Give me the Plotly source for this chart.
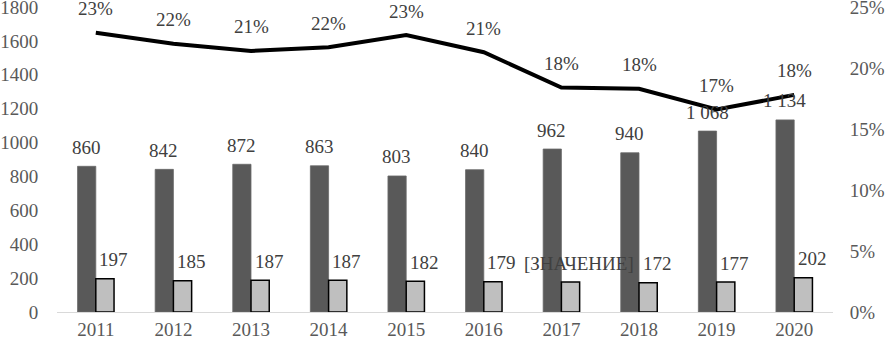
import plotly.graph_objects as go

years = ["2011", "2012", "2013", "2014", "2015", "2016", "2017", "2018", "2019", "2020"]
total_values = [860, 842, 872, 863, 803, 840, 962, 940, 1068, 1134]
total_labels = ["860", "842", "872", "863", "803", "840", "962", "940", "1 068", "1 134"]
part_values = [197, 185, 187, 187, 182, 179, 177, 172, 177, 202]
part_labels = ["197", "185", "187", "187", "182", "179", "[ЗНАЧЕНИЕ]", "172", "177", "202"]
share_values = [22.9, 22.0, 21.4, 21.7, 22.7, 21.3, 18.4, 18.3, 16.6, 17.8]
share_labels = ["23%", "22%", "21%", "22%", "23%", "21%", "18%", "18%", "17%", "18%"]
left_ticks = [0, 200, 400, 600, 800, 1000, 1200, 1400, 1600, 1800]
right_ticks = [0, 5, 10, 15, 20, 25]

FONT = "Liberation Serif"
TXT = "#404040"

fig = go.Figure()
fig.add_trace(go.Bar(x=years, y=total_values, marker=dict(color="#595959", line=dict(color="#6a6a6a", width=0.8)),
                     name="total"))
fig.add_trace(go.Bar(x=years, y=part_values, marker=dict(color="#bfbfbf", line=dict(color="#000000", width=1.5)),
                     name="part"))
fig.add_trace(go.Scatter(x=years, y=share_values, yaxis="y2", mode="lines",
                         line=dict(color="#000000", width=4), name="share"))

anns = []
for i, y in enumerate(years):
    # category axis: annotation x given as the category's serial index
    anns.append(dict(x=i, y=total_values[i], xref="x", yref="y", text=total_labels[i], showarrow=False,
                     xshift=-9.5, yshift=19, font=dict(family=FONT, size=19, color=TXT)))
    anns.append(dict(x=i, y=part_values[i], xref="x", yref="y", text=part_labels[i], showarrow=False,
                     xshift=18, yshift=19, font=dict(family=FONT, size=19, color=TXT)))
    anns.append(dict(x=i, y=share_values[i], xref="x", yref="y2", text=share_labels[i], showarrow=False,
                     yshift=24, font=dict(family=FONT, size=19, color=TXT)))

fig.update_layout(
    width=889, height=344,
    margin=dict(l=57, r=56, t=7, b=32),
    paper_bgcolor="white", plot_bgcolor="white",
    barmode="group", bargap=0.53, bargroupgap=0,
    showlegend=False,
    font=dict(family=FONT, size=19, color="#595959"),
    annotations=anns,
    xaxis=dict(type="category", range=[-0.5, len(years) - 0.5], showgrid=False, showline=True,
               linecolor="#d9d9d9", linewidth=1, ticks="",
               automargin=False, tickfont=dict(family=FONT, size=19, color="#595959")),
    yaxis=dict(range=[0, 1800.5], tickvals=left_ticks, showgrid=False, zeroline=False, showline=False,
               ticks="outside", ticklen=14, tickcolor="rgba(0,0,0,0)", automargin=False,
               ticklabeloverflow="allow",
               tickfont=dict(family=FONT, size=19, color="#595959")),
    yaxis2=dict(range=[0, 25.007], tickvals=right_ticks, ticktext=[f"{v}%" for v in right_ticks],
                overlaying="y", side="right", showgrid=False, zeroline=False, showline=False,
                ticks="outside", ticklen=12, tickcolor="rgba(0,0,0,0)", automargin=False,
                ticklabeloverflow="allow",
                tickfont=dict(family=FONT, size=19, color="#595959")),
)

fig.write_html("out.html", config={"displayModeBar": False},
               post_script="document.body.style.margin='0';document.body.style.overflow='hidden';")
